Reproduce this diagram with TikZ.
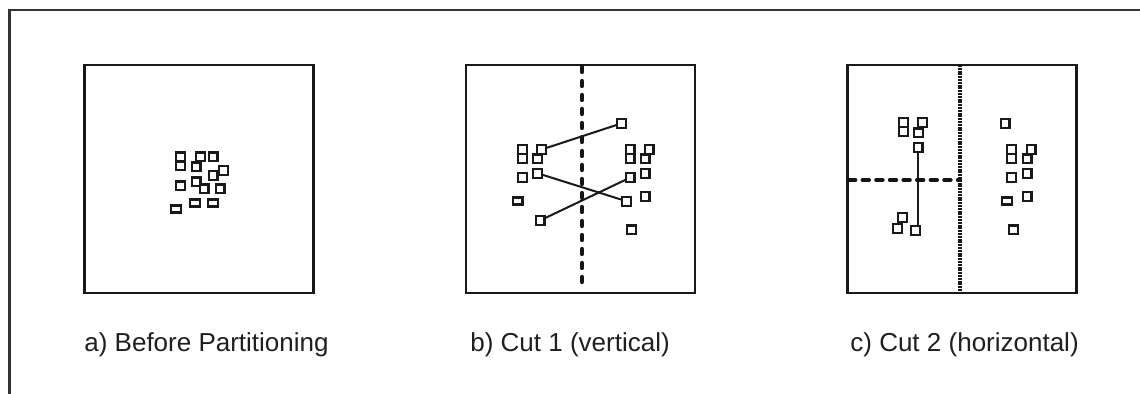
\documentclass[tikz,border=0pt]{standalone}
\usepackage{fontspec}
\setmainfont{Liberation Sans}
\begin{document}
\begin{tikzpicture}[x=0.5pt,y=-0.5pt,
  panel/.style={draw=black!90,line width=1.25pt},
  cell/.style={draw=black!90,fill=white,line width=1.1pt,minimum width=4.4pt,minimum height=4.4pt,inner sep=0pt,outer sep=0pt},
  flatcell/.style={cell,minimum width=4.7pt,minimum height=3.5pt},
  net/.style={draw=black!90,line width=1pt},
  cutline/.style={draw=black!92,line width=2.1pt,line cap=round,dash pattern=on 2.5pt off 4.5pt},
  cutline2/.style={draw=black!92,line width=2pt,line cap=round,dash pattern=on 3.2pt off 3.6pt},
  oldcut/.style={draw=black!90,line width=1.9pt,dash pattern=on 1pt off 0.4pt},
  caption/.style={anchor=base west,inner sep=0pt,font=\fontsize{13pt}{15pt}\selectfont,text=black!88}]
\useasboundingbox (0,0) rectangle (1140,394);
% outer frame (runs off the right and bottom edges)
\draw[draw=black!80,line width=1.1pt] (9.5,394) -- (9.5,10) -- (1140,10);

% ---------- a) before partitioning ----------
\draw[panel] (84.5,65) rectangle (313.5,293);
\node[cell] (a1) at (180.5,157) {};
\node[cell] (a2) at (180.5,166) {};
\node[cell] (a3) at (200.7,157) {};
\node[cell] (a4) at (213,157) {};
\node[cell] (a5) at (196,167) {};
\node[cell] (a6) at (223.5,170.3) {};
\node[cell] (a7) at (213,175.7) {};
\node[cell] (a8) at (180.5,186) {};
\node[cell] (a9) at (196,182) {};
\node[cell] (a10) at (204,189) {};
\node[cell] (a11) at (220,189) {};
\node[flatcell] (a12) at (195,203) {};
\node[flatcell] (a13) at (213,203) {};
\node[flatcell] (a14) at (176,209) {};
\node[caption] (capa) at (84,352) {a) Before Partitioning};

% ---------- b) first cut ----------
\draw[panel] (466,65) rectangle (695,293);
\coordinate (bt) at (582,67);
\coordinate (bb) at (582,291);
\draw[cutline] (bt) -- (bb);
\node[cell] (b1) at (522.3,149.5) {};
\node[cell] (b2) at (522.3,158.3) {};
\node[cell] (b4) at (537.7,159) {};
\node[cell] (b3) at (541.7,149.5) {};
\node[cell] (b5) at (522.3,177.7) {};
\node[cell] (b6) at (537.7,173.3) {};
\node[flatcell] (b7) at (517.7,201) {};
\node[cell] (b8) at (540,220.5) {};
\node[cell] (b9) at (621.7,123.3) {};
\node[cell] (b10) at (630,149.5) {};
\node[cell] (b11) at (630,158.3) {};
\node[cell] (b13) at (645,159) {};
\node[cell] (b12) at (649,149.5) {};
\node[cell] (b14) at (630,177.7) {};
\node[cell] (b15) at (645,173.3) {};
\node[cell] (b16) at (645,196.7) {};
\node[cell] (b17) at (626.7,201.3) {};
\node[cell] (b18) at (631.7,230) {};
\draw[net] (b3) -- (b9);
\draw[net] (b6) -- (b17);
\draw[net] (b8) -- (b14);
\node[caption] (capb) at (470,352) {b) Cut 1 (vertical)};

% ---------- c) second cut ----------
\draw[panel] (847.5,65) rectangle (1076.5,293);
\coordinate (ct) at (960,65);
\coordinate (cb) at (960,293);
\coordinate (cl) at (849,180);
\coordinate (cr) at (960,180);
\draw[oldcut] (ct) -- (cb);
\node[cell] (c1) at (903.3,122.8) {};
\node[cell] (c2) at (903.3,131.6) {};
\node[cell] (c4) at (918.3,133) {};
\node[cell] (c3) at (922.3,122.8) {};
\node[cell] (c5) at (918,147.7) {};
\node[cell] (c8) at (902.7,217.3) {};
\node[cell] (c7) at (897.7,228.3) {};
\node[cell] (c6) at (915.3,230.5) {};
\draw[net] (c5.south) -- (c5.south |- c6.north);
\draw[cutline2] (cl) -- (cr);
\node[cell] (c9) at (1005,123.3) {};
\node[cell] (c10) at (1011.7,149.5) {};
\node[cell] (c11) at (1011.7,158.3) {};
\node[cell] (c13) at (1027,159) {};
\node[cell] (c12) at (1031,149.5) {};
\node[cell] (c14) at (1011.7,177.7) {};
\node[cell] (c15) at (1027,173.3) {};
\node[flatcell] (c16) at (1007,201) {};
\node[cell] (c17) at (1027,196.7) {};
\node[cell] (c18) at (1013.3,230) {};
\node[caption] (capc) at (850,352) {c) Cut 2 (horizontal)};
\end{tikzpicture}
\end{document}
